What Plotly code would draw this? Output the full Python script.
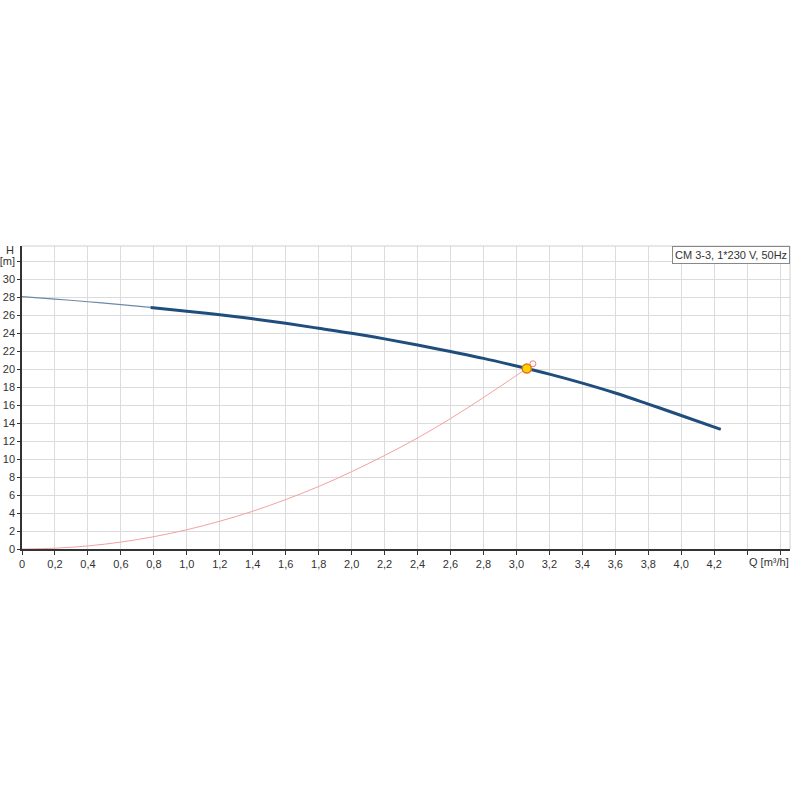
import plotly.graph_objects as go

# Pump curve (Q in m3/h, H in m)
pump_q_thin = [0.0, 0.2, 0.4, 0.6, 0.78]
pump_h_thin = [28.07, 27.8, 27.5, 27.17, 26.87]
pump_q = [0.78, 1.0, 1.2, 1.4, 1.6, 1.8, 2.0, 2.2, 2.4, 2.6, 2.8, 3.0, 3.2, 3.4, 3.6, 3.8, 4.0, 4.24]
pump_h = [26.87, 26.45, 26.05, 25.6, 25.1, 24.55, 24.0, 23.37, 22.7, 21.96, 21.2, 20.35, 19.45, 18.45, 17.35, 16.12, 14.85, 13.3]

# System curve
sys_q = [0.0, 0.2, 0.4, 0.6, 0.8, 1.0, 1.2, 1.4, 1.6, 1.8, 2.0, 2.2, 2.4, 2.6, 2.8, 3.0, 3.063]
sys_h = [0.0, 0.09, 0.34, 0.77, 1.37, 2.14, 3.09, 4.2, 5.5, 6.95, 8.6, 10.4, 12.35, 14.5, 16.85, 19.3, 20.1]

# Duty point and requested point
duty_q = [3.063]
duty_h = [20.07]
req_q = [3.1]
req_h = [20.6]

x_ticks = [0, 0.2, 0.4, 0.6, 0.8, 1.0, 1.2, 1.4, 1.6, 1.8, 2.0, 2.2, 2.4, 2.6, 2.8, 3.0, 3.2, 3.4, 3.6, 3.8, 4.0, 4.2, 4.4, 4.6]
x_labels = ["0", "0,2", "0,4", "0,6", "0,8", "1,0", "1,2", "1,4", "1,6", "1,8", "2,0", "2,2", "2,4", "2,6", "2,8",
            "3,0", "3,2", "3,4", "3,6", "3,8", "4,0", "4,2", "", ""]
y_ticks = [0, 2, 4, 6, 8, 10, 12, 14, 16, 18, 20, 22, 24, 26, 28, 30, 32]
y_labels = ["0", "2", "4", "6", "8", "10", "12", "14", "16", "18", "20", "22", "24", "26", "28", "30", "[m]"]

legend_text = "CM 3-3, 1*230 V, 50Hz"

font = dict(family="Liberation Sans, Arial, sans-serif", size=11, color="#333333")

fig = go.Figure()
fig.add_trace(go.Scatter(x=sys_q, y=sys_h, mode="lines",
                         line=dict(color="#f4a0a0", width=1, shape="spline"), hoverinfo="skip"))
fig.add_trace(go.Scatter(x=pump_q_thin, y=pump_h_thin, mode="lines",
                         line=dict(color="#6f88a8", width=1.2, shape="spline"), hoverinfo="skip"))
fig.add_trace(go.Scatter(x=pump_q, y=pump_h, mode="lines",
                         line=dict(color="#1f4e7d", width=3, shape="spline"), hoverinfo="skip"))
fig.add_trace(go.Scatter(x=req_q, y=req_h, mode="markers",
                         marker=dict(size=6, color="rgba(255,255,255,0)",
                                     line=dict(color="#f08080", width=1)), hoverinfo="skip"))
fig.add_trace(go.Scatter(x=duty_q, y=duty_h, mode="markers",
                         marker=dict(size=9, color="#ffd400",
                                     line=dict(color="#e8741a", width=1.5)), hoverinfo="skip"))

fig.update_layout(
    width=800, height=800,
    margin=dict(l=22, r=10, t=246, b=251, autoexpand=False),
    paper_bgcolor="white", plot_bgcolor="white",
    showlegend=False,
    font=font,
    xaxis=dict(range=[0, 4.66], tickmode="array", tickvals=x_ticks, ticktext=x_labels,
               showgrid=True, gridcolor="#dcdcdc", gridwidth=1,
               showline=True, linecolor="#333333", linewidth=1.5,
               ticks="outside", ticklen=4, tickcolor="#333333",
               zeroline=False, automargin=False),
    yaxis=dict(range=[0, 33.7], tickmode="array", tickvals=y_ticks, ticktext=y_labels,
               showgrid=True, gridcolor="#dcdcdc", gridwidth=1,
               showline=True, linecolor="#333333", linewidth=1.5,
               ticks="outside", ticklen=3, tickcolor="#333333",
               zeroline=False, automargin=False),
    shapes=[
        dict(type="line", xref="paper", yref="paper", x0=0, x1=1, y0=1, y1=1,
             line=dict(color="#d0d0d0", width=1)),
        dict(type="line", xref="paper", yref="paper", x0=1, x1=1, y0=0, y1=1,
             line=dict(color="#d0d0d0", width=1)),
    ],
    annotations=[
        dict(text="H", xref="paper", yref="y", x=0, y=33.3, xanchor="right", yanchor="middle",
             xshift=-6, showarrow=False, font=font),
        dict(text="Q [m³/h]", xref="x", yref="paper", x=4.53, y=0, xanchor="center", yanchor="top",
             yshift=-5, showarrow=False, font=font),
        dict(text=legend_text, xref="paper", yref="paper", x=1, y=1, xanchor="right", yanchor="top",
             showarrow=False, font=font, bgcolor="white", bordercolor="#888888", borderwidth=1,
             borderpad=2),
    ],
)

fig.write_html("out.html", config={"displayModeBar": False},
               post_script="document.body.style.margin='0';")
